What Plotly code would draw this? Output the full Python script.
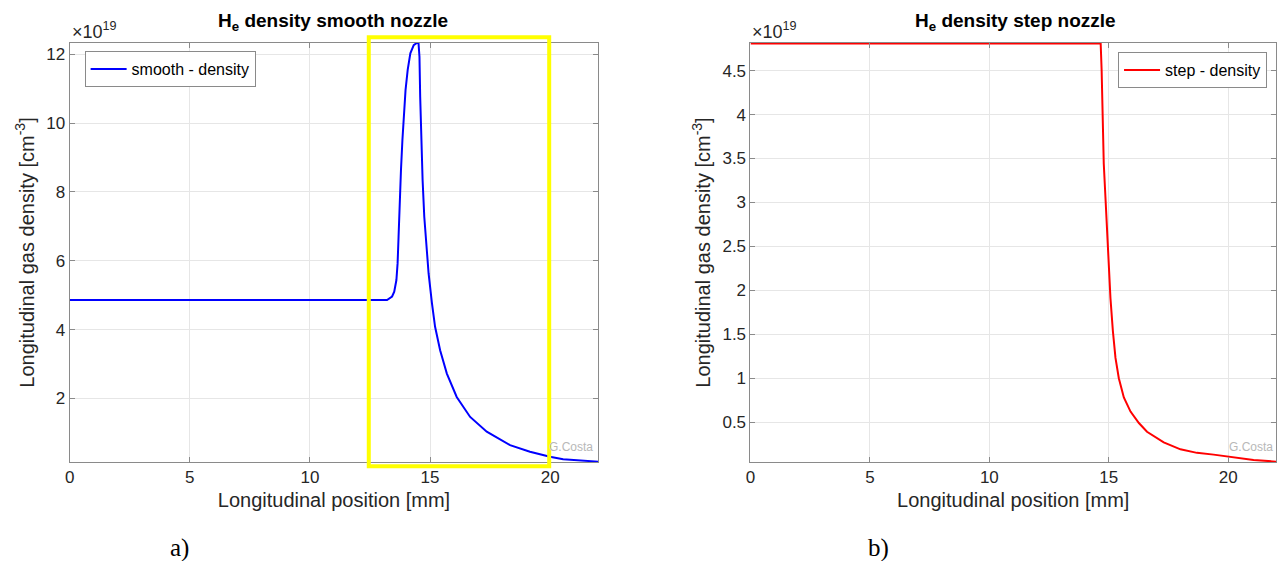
import plotly.graph_objects as go

# ---------------- data (density in units of 1e19 cm^-3, position in mm) ----------------
smooth_x = [0.0, 5.0, 10.0, 13.0, 13.21, 13.42, 13.51, 13.60, 13.65, 13.69, 13.73, 13.79, 13.85,
            13.90, 13.98, 14.07, 14.18, 14.32, 14.45, 14.52, 14.56, 14.59, 14.63, 14.69, 14.76,
            14.84, 14.94, 15.08, 15.21, 15.42, 15.70, 16.11, 16.67, 17.36, 18.33, 19.16, 19.99,
            20.54, 21.3, 22.0]
smooth_y = [4.86, 4.86, 4.86, 4.86, 4.86, 4.96, 5.10, 5.44, 5.93, 6.70, 7.67, 8.64, 9.51,
            10.19, 10.96, 11.55, 12.03, 12.27, 12.33, 12.33, 11.93, 10.77, 9.51, 8.35, 7.28,
            6.41, 5.63, 4.76, 4.08, 3.40, 2.72, 2.04, 1.46, 1.03, 0.64, 0.45, 0.30,
            0.23, 0.19, 0.16]

step_x = [0.0, 5.0, 10.0, 14.66, 14.70, 14.73, 14.77, 14.79, 14.86, 14.93, 15.00, 15.07, 15.17,
          15.28, 15.42, 15.63, 15.91, 16.26, 16.60, 17.30, 18.00, 18.69, 19.39, 20.15, 21.06, 22.0]
step_y = [4.81, 4.81, 4.81, 4.81, 4.51, 4.20, 3.82, 3.44, 3.06, 2.68, 2.30, 1.91, 1.54,
          1.23, 1.00, 0.78, 0.62, 0.49, 0.39, 0.27, 0.19, 0.15, 0.13, 0.10, 0.07, 0.05]

x_ticks = [0, 5, 10, 15, 20]
smooth_y_ticks = [2, 4, 6, 8, 10, 12]
step_y_ticks = [0.5, 1, 1.5, 2, 2.5, 3, 3.5, 4, 4.5]

highlight_x = [12.45, 19.96]   # highlighted region (mm)
highlight_y = [0.03, 12.5]

# ---------------- layout geometry ----------------
W, H = 1277, 561
dom1 = [65 / W, 596 / W]
dom2 = [749 / W, 1.0]
ydom = [1 - 462 / H, 1 - 43 / H]
xr = [0, 22]
yr1 = [0.15, 12.33]
yr2 = [0.046, 4.815]

FONT = "Liberation Sans, Arial, Helvetica, sans-serif"
TXT = "#262626"
AX = "#8a8a8a"
GRID = "#e6e6e6"

fig = go.Figure()
fig.add_trace(go.Scatter(x=smooth_x, y=smooth_y, mode="lines", name="smooth - density",
                         line=dict(color="#0000ff", width=2), xaxis="x", yaxis="y",
                         legend="legend"))
fig.add_trace(go.Scatter(x=step_x, y=step_y, mode="lines", name="step - density",
                         line=dict(color="#ff0000", width=2), xaxis="x2", yaxis="y2",
                         legend="legend2"))


def xax(dom, anchor):
    return dict(domain=dom, range=xr, tickvals=x_ticks, anchor=anchor,
                showline=True, linecolor=AX, linewidth=1, mirror="ticks",
                ticks="inside", ticklen=5, tickcolor=AX,
                showgrid=True, gridcolor=GRID, zeroline=False,
                tickfont=dict(family=FONT, size=17, color=TXT),
                title=dict(text="Longitudinal position [mm]",
                           font=dict(family=FONT, size=20, color=TXT), standoff=6))


def yax(rng, ticks, anchor):
    return dict(domain=ydom, range=rng, tickvals=ticks, anchor=anchor,
                showline=True, linecolor=AX, linewidth=1, mirror="ticks",
                ticks="inside", ticklen=5, tickcolor=AX,
                showgrid=True, gridcolor=GRID, zeroline=False,
                tickfont=dict(family=FONT, size=17, color=TXT),
                title=dict(text="Longitudinal gas density [cm<sup>-3</sup>]",
                           font=dict(family=FONT, size=20, color=TXT), standoff=6))


def to_paper(v, rng, dom):
    return dom[0] + (v - rng[0]) / (rng[1] - rng[0]) * (dom[1] - dom[0])


annotations = []
panels = [(dom1, "<b>H<sub>e</sub> density smooth nozzle</b>", 330 / W, 593 / W),
          (dom2, "<b>H<sub>e</sub> density step nozzle</b>", 1015 / W, 1276 / W)]
for dom, title, tx, gx in panels:
    annotations.append(dict(text=title, xref="paper", yref="paper", x=tx, y=1 - 22 / H,
                            xanchor="center", yanchor="middle", showarrow=False,
                            font=dict(family=FONT, size=19, color="#000000")))
    annotations.append(dict(text="×10<sup>19</sup>", xref="paper", yref="paper",
                            x=dom[0], y=ydom[1] - 1 / H, xanchor="left", yanchor="bottom",
                            showarrow=False, font=dict(family=FONT, size=18, color=TXT)))
    annotations.append(dict(text="G.Costa", xref="paper", yref="paper", x=gx,
                            y=1 - 447 / H, xanchor="right", yanchor="middle",
                            showarrow=False, font=dict(family=FONT, size=12, color="#b8b8b8")))
for lab, lx in [("a)", 175 / W), ("b)", 878 / W)]:
    annotations.append(dict(text=lab, xref="paper", yref="paper", x=lx, y=1 - 548 / H,
                            xanchor="center", yanchor="middle", showarrow=False,
                            font=dict(family="Liberation Serif, DejaVu Serif, serif",
                                      size=25, color="#000000")))

shapes = [dict(type="rect", xref="paper", yref="paper",
               x0=to_paper(highlight_x[0], xr, dom1), x1=to_paper(highlight_x[1], xr, dom1),
               y0=to_paper(highlight_y[0], yr1, ydom), y1=to_paper(highlight_y[1], yr1, ydom),
               line=dict(color="#ffff00", width=4), fillcolor="rgba(0,0,0,0)", layer="above")]

legend_common = dict(bgcolor="#ffffff", bordercolor="#8a8a8a", borderwidth=1,
                     font=dict(family=FONT, size=16, color="#000000"),
                     itemwidth=36, tracegroupgap=0)

fig.update_layout(
    width=W, height=H, autosize=False,
    margin=dict(l=0, r=0, t=0, b=0),
    paper_bgcolor="#ffffff", plot_bgcolor="#ffffff",
    xaxis=xax(dom1, "y"), yaxis=yax(yr1, smooth_y_ticks, "x"),
    xaxis2=xax(dom2, "y2"), yaxis2=yax(yr2, step_y_ticks, "x2"),
    legend=dict(x=80 / W, y=1 - 51 / H, xanchor="left", yanchor="top", **legend_common),
    legend2=dict(x=1268 / W, y=1 - 52 / H, xanchor="right", yanchor="top", **legend_common),
    annotations=annotations, shapes=shapes, showlegend=True,
)

fig.write_html("out.html")
